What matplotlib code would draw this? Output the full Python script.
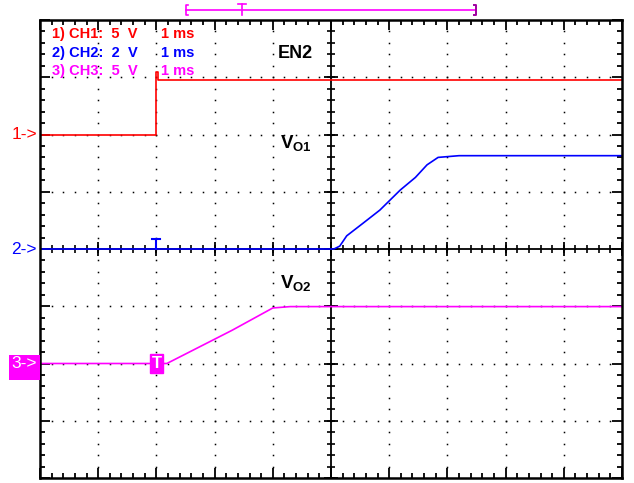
import matplotlib.pyplot as plt, numpy as np
from matplotlib.patches import Rectangle

plt.rcParams['font.family'] = ['Liberation Sans', 'DejaVu Sans']
plt.rcParams['mathtext.fontset'] = 'custom'
plt.rcParams['mathtext.bf'] = 'Liberation Sans:bold'

# channel settings: (volts per division, ground position in divisions)
ch1_scale, ch1_pos = 5, 6
ch2_scale, ch2_pos = 2, 4
ch3_scale, ch3_pos = 5, 2

# traces, time in ms (trigger at 0), level in V
t_ch1 = [-2.0, 0.0, 0.0, 0.03, 0.03, 8.0]
v_ch1 = [0.0, 0.0, 5.45, 5.45, 4.8, 4.8]

t_ch2 = [-2.0, 3.05, 3.15, 3.27, 3.55, 3.84, 4.19, 4.45, 4.65, 4.84, 5.2, 8.0]
v_ch2 = [0.0, 0.0, 0.1, 0.46, 0.9, 1.36, 2.06, 2.5, 2.94, 3.2, 3.26, 3.26]

t_ch3 = [-2.0, 0.18, 1.3, 2.0, 2.3, 8.0]
v_ch3 = [0.0, 0.0, 2.9, 4.85, 4.97, 4.97]

red, blue, magenta = '#ff0000', '#0000ff', '#ff00ff'


def div(v, scale, pos):
    return pos + np.asarray(v) / scale


fig = plt.figure(figsize=(6.34, 4.83), dpi=100)
ax = fig.add_axes([40 / 634, 5 / 483, 582 / 634, 458 / 483])
ax.set_xlim(-2, 8)
ax.set_ylim(0, 8)

# dotted graticule
xg = np.arange(-2, 8.001, 0.2)
yg = np.arange(0, 8.001, 0.2)
for gx in range(-1, 8):
    if gx != 3:
        ax.plot([gx] * len(yg), yg, ls='none', marker='s', ms=1.1, color='k', mew=0)
for gy in range(1, 8):
    if gy != 4:
        ax.plot(xg, [gy] * len(xg), ls='none', marker='s', ms=1.1, color='k', mew=0)

# centre cross with ticks
ax.axvline(3, color='k', lw=1.3)
ax.axhline(4, color='k', lw=1.3)
ax.plot(xg, [4] * len(xg), ls='none', marker='|', ms=6, mew=1.2, color='k')
ax.plot([3] * len(yg), yg, ls='none', marker='_', ms=6, mew=1.2, color='k')
ax.plot(np.arange(-2, 9), [4] * 11, ls='none', marker='|', ms=10, mew=1.3, color='k')
ax.plot([3] * 9, np.arange(0, 9), ls='none', marker='_', ms=10, mew=1.3, color='k')

for s in ax.spines.values():
    s.set_linewidth(1.8)
ax.set_xticks(np.arange(-2, 9))
ax.set_yticks(np.arange(0, 9))
ax.set_xticks(xg, minor=True)
ax.set_yticks(yg, minor=True)
ax.tick_params(which='both', direction='in', top=True, right=True,
               labelbottom=False, labelleft=False, width=1.3)
ax.tick_params(which='major', length=7)
ax.tick_params(which='minor', length=3.5)

# traces
ax.plot(t_ch1, div(v_ch1, ch1_scale, ch1_pos), color=red, lw=1.2)
ax.plot(t_ch2, div(v_ch2, ch2_scale, ch2_pos), color=blue, lw=1.2)
ax.plot(t_ch3, div(v_ch3, ch3_scale, ch3_pos), color=magenta, lw=1.2)

# trigger markers
ax.plot([0, 0], [4, 4.17], color=blue, lw=1.5)
ax.plot([-0.07, 0.07], [4.17, 4.17], color=blue, lw=1.5)
ax.text(0, 2.0, 'T', color='white', fontsize=12, fontweight='bold', ha='center', va='center',
        bbox=dict(boxstyle='square,pad=0.1', fc=magenta, ec=magenta))

# channel ground markers
ax.text(-2.05, 6, '1->', color=red, fontsize=12.5, ha='right', va='center', clip_on=False)
ax.text(-2.05, 4, '2->', color=blue, fontsize=12.5, ha='right', va='center', clip_on=False)
ax.add_patch(Rectangle((9 / 634, (483 - 380) / 483), 31 / 634, 25 / 483,
                       transform=fig.transFigure, fc=magenta, ec='none',
                       clip_on=False, zorder=4))
ax.text(-2.05, 2.0, '3->', color='white', fontsize=12.5, ha='right', va='center',
        clip_on=False, zorder=5)

# memory window bar above the screen
yb = 8.18
ax.plot([0.51, 5.49], [yb, yb], color=magenta, lw=1.2, clip_on=False)
ax.plot([0.55, 0.51, 0.51, 0.55], [yb + 0.09, yb + 0.09, yb - 0.09, yb - 0.09],
        color=magenta, lw=1.2, clip_on=False)
ax.plot([5.45, 5.49, 5.49, 5.45], [yb + 0.09, yb + 0.09, yb - 0.09, yb - 0.09],
        color='#a000a0', lw=1.4, clip_on=False)
ax.plot([1.47, 1.47], [yb - 0.1, yb + 0.1], color=magenta, lw=1.2, clip_on=False)
ax.plot([1.40, 1.54], [yb + 0.1, yb + 0.1], color=magenta, lw=1.2, clip_on=False)

# channel info
info = [('1) CH1:  5  V', '1 ms', red, 7.76),
        ('2) CH2:  2  V', '1 ms', blue, 7.42),
        ('3) CH3:  5  V', '1 ms', magenta, 7.11)]
for a, b, c, y in info:
    ax.text(-1.79, y, a, color=c, fontsize=10.5, fontweight='bold', va='center')
    ax.text(0.08, y, b, color=c, fontsize=10.5, fontweight='bold', va='center')

# signal names
ax.text(2.08, 7.42, 'EN2', fontsize=13, fontweight='bold', va='center')
ax.text(2.13, 5.85, r'$\mathbf{V_{O1}}$', fontsize=13.5, va='center')
ax.text(2.13, 3.4, r'$\mathbf{V_{O2}}$', fontsize=13.5, va='center')

plt.savefig('out.png')
